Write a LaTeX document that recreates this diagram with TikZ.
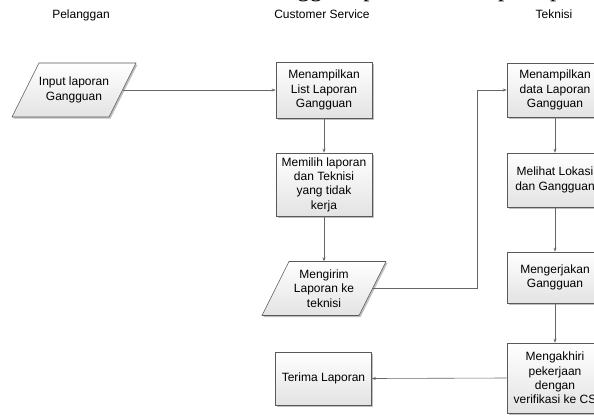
\documentclass[tikz,border=0pt]{standalone}
\usepackage{fontspec}
\setmainfont{Liberation Sans}
\newfontfamily\serifdoc{Liberation Serif}
\usetikzlibrary{shadows,arrows.meta,calc}
\newcommand\parabox[4]{%
  \path[parashape] ({#2-35},{#3-27}) -- ({#2+62},{#3-27}) -- ({#2+35},{#3+27}) -- ({#2-62},{#3+27}) -- cycle;
  \node[txt, minimum width=97pt, minimum height=54pt] (#1) at (#2,#3) {#4};}
\begin{document}
\begin{tikzpicture}[x=1pt,y=-1pt,
  txt/.style={align=center, font=\fontsize{12}{14.4}\selectfont, inner sep=1pt},
  shade/.style={draw=gray!70!black, line width=0.6pt, top color=white, bottom color=gray!22,
    drop shadow={shadow xshift=1.5pt,shadow yshift=-1.5pt,fill=black,opacity=0.25}},
  box/.style={txt, shade, minimum width=96pt},
  parashape/.style={shade},
  lab/.style={font=\fontsize{12}{14.4}\selectfont, anchor=base, inner sep=0pt},
  conn/.style={draw=gray!80!black, line width=0.6pt, -{Stealth[length=4pt,width=3pt]}}
]
\useasboundingbox (0,0) rectangle (594,415);
\clip (0,0) rectangle (594,415);
\node[anchor=base west, font=\serifdoc\fontsize{25}{30}\selectfont, inner sep=0pt] (toptext) at (-45.7,-3) {customer service dan teknisi sehingga dapat terlihat seperti pada};
\node[lab] (lp) at (81,18) {Pelanggan};
\node[lab] (lc) at (322,18) {Customer Service};
\node[lab] (lt) at (554,18) {Teknisi};
\parabox{input}{74}{90}{Input laporan\\Gangguan}
\node[box, minimum height=56pt] (list) at (324,90) {Menampilkan\\List Laporan\\Gangguan};
\node[box, minimum height=63pt] (pilih) at (324,184.5) {Memilih laporan\\dan Teknisi\\yang tidak\\kerja};
\parabox{kirim}{324}{288.5}{Mengirim\\Laporan ke\\teknisi}
\node[box, minimum height=53pt] (terima) at (323.5,378.5) {Terima Laporan};
\node[box, minimum height=54pt] (data) at (555,90) {Menampilkan\\data Laporan\\Gangguan};
\node[box, minimum height=54pt] (lihat) at (555,180) {Melihat Lokasi\\dan Gangguan};
\node[box, minimum height=51pt] (kerja) at (555,277.5) {Mengerjakan\\Gangguan};
\node[box, minimum height=70pt] (akhir) at (555,378) {Mengakhiri\\pekerjaan\\dengan\\verifikasi ke CS};
\draw[conn] (input.east) -- (list.west);
\draw[conn] (list.south) -- (pilih.north);
\draw[conn] (pilih.south) -- (kirim.north);
\draw[conn] (kirim.east) -| ($(data.west)+(-29,0)$) -- (data.west);
\draw[conn] (data.south) -- (lihat.north);
\draw[conn] (lihat.south) -- (kerja.north);
\draw[conn] (kerja.south) -- (akhir.north);
\draw[conn] (akhir.west) -- (terima.east);
\end{tikzpicture}
\end{document}
